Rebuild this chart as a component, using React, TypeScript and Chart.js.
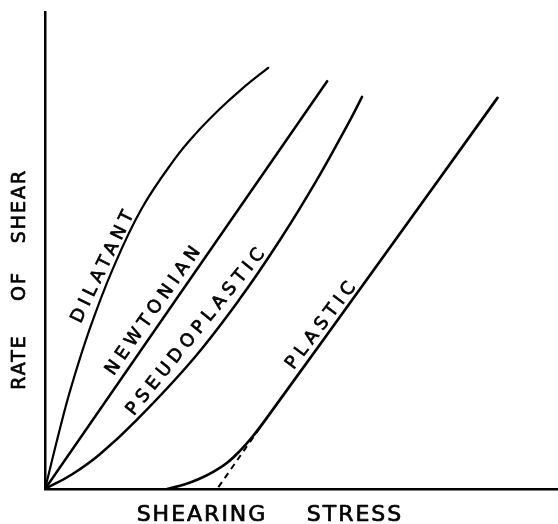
import React, { useEffect, useRef } from "react";
import { Chart, registerables } from "chart.js";

Chart.register(...registerables);

// Shearing stress (x) vs rate of shear (y), arbitrary units
const dilatantX = [0, 0.29, 0.5, 0.87, 1.32, 1.88, 2.53, 2.93, 3.41, 3.84, 4.35];
const dilatantY = [0, 1.26, 2.1, 3.35, 4.61, 5.87, 6.92, 7.44, 7.97, 8.39, 8.83];
const newtonianX = [0, 5.5];
const newtonianY = [0, 8.55];
const pseudoX = [0, 0.53, 1.07, 1.79, 2.87, 3.78, 4.58, 5.3, 5.95, 6.18];
const pseudoY = [0, 0.31, 0.73, 1.45, 2.7, 3.96, 5.22, 6.48, 7.74, 8.22];
const plasticX = [2.38, 2.73, 3.0, 3.28, 3.55, 3.8, 4.04, 4.31, 6.52, 8.82];
const plasticY = [0, 0.1, 0.21, 0.36, 0.55, 0.8, 1.09, 1.47, 4.76, 8.2];
const yieldX = [3.38, 4.2];
const yieldY = [0.04, 1.3];

// Curve labels (annotation text and where it sits, in data units)
const curveLabels = ["DILATANT", "NEWTONIAN", "PSEUDOPLASTIC", "PLASTIC"];
const labelAnchorX = [1.13, 2.11, 2.94, 5.38];
const labelAnchorY = [4.65, 3.73, 3.29, 3.42];
const labelAngles = [-64, -55, -51, -53];

const xTitleWords = ["SHEARING", "STRESS"];
const yTitleWords = ["RATE", "OF", "SHEAR"];

const toPoints = (xs: number[], ys: number[]) => xs.map((x, i) => ({ x, y: ys[i] }));

const drawText = (ctx: CanvasRenderingContext2D, t: string, x: number, y: number) => {
  ctx.fillText(t, x, y);
  ctx.strokeText(t, x, y);
};

const textPlugin = {
  id: "handLabels",
  afterDraw(chart: any) {
    const { ctx, chartArea, scales } = chart;
    const xs = scales.x;
    const ys = scales.y;
    ctx.save();
    ctx.fillStyle = "#000";
    ctx.strokeStyle = "#000";
    ctx.lineWidth = 0.7;
    ctx.lineJoin = "round";
    ctx.textAlign = "center";
    ctx.textBaseline = "middle";

    // curve labels
    ctx.font = '18px "DejaVu Sans"';
    const sp = 5;
    (ctx as any).letterSpacing = sp + "px";
    curveLabels.forEach((t, i) => {
      const px = xs.getPixelForValue(labelAnchorX[i]);
      const py = ys.getPixelForValue(labelAnchorY[i]);
      ctx.save();
      ctx.translate(px, py);
      ctx.rotate((labelAngles[i] * Math.PI) / 180);
      drawText(ctx, t, sp / 2, 0);
      ctx.restore();
    });

    // x axis title
    ctx.font = '22px "DejaVu Sans"';
    (ctx as any).letterSpacing = "2px";
    const bx = chartArea.bottom + 26;
    drawText(ctx, xTitleWords[0], chartArea.left + 157, bx);
    drawText(ctx, xTitleWords[1], chartArea.left + 310, bx);

    // y axis title
    ctx.font = '19px "DejaVu Sans"';
    ctx.save();
    ctx.translate(chartArea.left - 25, 0);
    ctx.rotate(-Math.PI / 2);
    const yc = [363, 287, 207];
    yTitleWords.forEach((w, i) => {
      drawText(ctx, w, -yc[i] + 1, 0);
    });
    ctx.restore();
    ctx.restore();
  },
};

export default function App() {
  const ref = useRef<HTMLCanvasElement | null>(null);
  useEffect(() => {
    if (!ref.current) return;
    const common = {
      borderColor: "#000",
      pointRadius: 0,
      fill: false,
      tension: 0.4,
      borderCapStyle: "round" as const,
    };
    const chart = new Chart(ref.current, {
      type: "line",
      data: {
        datasets: [
          { ...common, label: "Dilatant", data: toPoints(dilatantX, dilatantY), borderWidth: 2.2 },
          { ...common, label: "Newtonian", data: toPoints(newtonianX, newtonianY), borderWidth: 2.5 },
          { ...common, label: "Pseudoplastic", data: toPoints(pseudoX, pseudoY), borderWidth: 2.5 },
          { ...common, label: "Plastic", data: toPoints(plasticX, plasticY), borderWidth: 2.7 },
          {
            ...common,
            label: "Yield",
            data: toPoints(yieldX, yieldY),
            borderWidth: 2,
            borderCapStyle: "butt" as const,
            borderDash: [6, 5],
          },
        ],
      },
      options: {
        responsive: false,
        animation: false,
        layout: { padding: { left: 45, top: 12, right: 0, bottom: 35 } },
        plugins: { legend: { display: false }, tooltip: { enabled: false } },
        scales: {
          x: {
            type: "linear",
            min: 0,
            max: 10,
            ticks: { display: false },
            grid: { display: false, drawTicks: false },
            border: { display: true, color: "#000", width: 2.5 },
          },
          y: {
            type: "linear",
            min: 0,
            max: 10,
            ticks: { display: false },
            grid: { display: false, drawTicks: false },
            border: { display: true, color: "#000", width: 2.5 },
          },
        },
      },
      plugins: [textPlugin],
    });
    return () => chart.destroy();
  }, []);
  return (
    <div style={{ position: "fixed", left: 0, top: 0, width: 558, height: 524, background: "#fff" }}>
      <canvas ref={ref} width={558} height={524} style={{ display: "block" }} />
    </div>
  );
}
